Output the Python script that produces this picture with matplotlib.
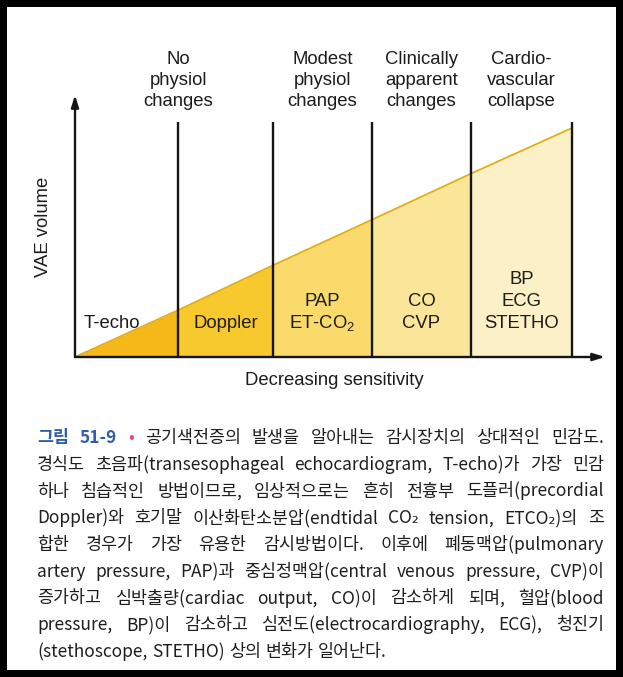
import matplotlib
matplotlib.use('Agg')
import matplotlib.pyplot as plt
from matplotlib.patches import Rectangle
from matplotlib import transforms

plt.rcParams['font.family'] = ['Liberation Sans', 'DejaVu Sans']

# data
stage_bounds = [0, 1.04, 1.99, 2.99, 3.98, 5.0]          # section edges (sensitivity steps)
vae_at_bounds = [0, 0.205, 0.40, 0.60, 0.80, 1.0]         # VAE volume at each edge
section_colors = ['#F4B819', '#F7C92C', '#F9DA6B', '#FBE598', '#FCF0C6']
monitor_labels = ['T-echo', 'Doppler', 'PAP\nET-CO$_\\mathregular{2}$', 'CO\nCVP', 'BP\nECG\nSTETHO']
stage_labels = ['No\nphysiol\nchanges', 'Modest\nphysiol\nchanges',
                'Clinically\napparent\nchanges', 'Cardio-\nvascular\ncollapse']
caption_lines = [
    '그림 51-9 • 공기색전증의 발생을 알아내는 감시장치의 상대적인 민감도.',
    '경식도 초음파(transesophageal echocardiogram, T-echo)가 가장 민감',
    '하나 침습적인 방법이므로, 임상적으로는 흔히 전흉부 도플러(precordial',
    'Doppler)와 호기말 이산화탄소분압(endtidal CO₂ tension, ETCO₂)의 조',
    '합한 경우가 가장 유용한 감시방법이다. 이후에 폐동맥압(pulmonary',
    'artery pressure, PAP)과 중심정맥압(central venous pressure, CVP)이',
    '증가하고 심박출량(cardiac output, CO)이 감소하게 되며, 혈압(blood',
    'pressure, BP)이 감소하고 심전도(electrocardiography, ECG), 청진기',
    '(stethoscope, STETHO) 상의 변화가 일어난다.',
]

W, H = 623, 677
def fx(px):
    return px / W
def fy(py):
    return 1 - py / H

fig = plt.figure(figsize=(W / 100, H / 100), dpi=100, facecolor='black')
fig.patches.append(Rectangle((fx(7), fy(670)), fx(616) - fx(7), fy(7) - fy(670),
                             transform=fig.transFigure, facecolor='white', edgecolor='none', zorder=-10))

# chart area (origin at px 75,357; arrows end at x=605, y=95)
unit_x = (572 - 75) / 5.0
unit_y = 229.0
ax = fig.add_axes([fx(75), fy(357), fx(605) - fx(75), fy(95) - fy(357)])
ax.set_xlim(0, (605 - 75) / unit_x)
ax.set_ylim(0, (357 - 95) / unit_y)
ax.axis('off')

for i in range(5):
    ax.fill_between(stage_bounds[i:i + 2], 0, vae_at_bounds[i:i + 2],
                    color=section_colors[i], lw=0, zorder=1)
ax.plot(stage_bounds, vae_at_bounds, color='#E2AE14', lw=1.3, zorder=2, solid_capstyle='butt')
ax.vlines(stage_bounds[1:], 0, (357 - 122) / unit_y, colors='#151515', lw=1.7, zorder=3)

arrow = dict(arrowstyle='-|>,head_length=0.7,head_width=0.22', color='#151515', lw=1.7,
             shrinkA=0, shrinkB=0)
ax.annotate('', xy=(1, 0), xytext=(0, 0), xycoords='axes fraction', arrowprops=arrow,
            annotation_clip=False, zorder=4)
ax.annotate('', xy=(0, 1), xytext=(0, 0), xycoords='axes fraction', arrowprops=arrow,
            annotation_clip=False, zorder=4)

fs = 13.3
tcol = '#1c1c1c'
blend = transforms.blended_transform_factory(ax.transData, fig.transFigure)

# labels inside sections
for i, lab in enumerate(monitor_labels):
    cx = (stage_bounds[i] + stage_bounds[i + 1]) / 2
    if i == 0:
        cx -= 0.15
    parts = lab.split('\n')
    n = len(parts)
    for j, p in enumerate(parts):
        ax.text(cx, fy(328 - 22 * (n - 1 - j)), p, transform=blend, ha='center',
                va='baseline', fontsize=fs, color=tcol, zorder=5)

# stage labels above
stage_x = [stage_bounds[1]] + [(stage_bounds[i] + stage_bounds[i + 1]) / 2 for i in (2, 3, 4)]
for cx, lab in zip(stage_x, stage_labels):
    for j, p in enumerate(lab.split('\n')):
        ax.text(cx, fy(64 + 21 * j), p, transform=blend, ha='center', va='baseline',
                fontsize=fs, color=tcol)

fig.text(fx(43), fy(227), 'VAE volume', rotation=90, ha='center', va='center',
         fontsize=fs, color=tcol)
fig.text(fx(334), fy(381), 'Decreasing sensitivity', ha='center', va='center',
         fontsize=fs, color=tcol)

# caption, justified word by word
cjk = ['Noto Sans CJK KR', 'DejaVu Sans']
renderer = fig.canvas.get_renderer()
x0, x1 = 37, 604

def word_style(li, wi):
    if li == 0 and wi < 2:
        return dict(color='#2F5DA8', fontweight='bold')
    if li == 0 and wi == 2:
        return dict(color='#E0507E')
    return dict(color='#1e1e1e', fontweight='medium')

def measure(words, li, size):
    ws = []
    for wi, w in enumerate(words):
        t = fig.text(0, 0, w, fontsize=size, family=cjk, **word_style(li, wi))
        ws.append(t.get_window_extent(renderer).width)
        t.remove()
    return ws

cap_fs = 12.5
while cap_fs > 8:
    ok = True
    for li, line in enumerate(caption_lines[:-1]):
        words = line.split(' ')
        ws = measure(words, li, cap_fs)
        if sum(ws) + 0.2 * cap_fs * (len(words) - 1) > x1 - x0:
            ok = False
            break
    if ok:
        break
    cap_fs -= 0.25

for li, line in enumerate(caption_lines):
    words = line.split(' ')
    ws = measure(words, li, cap_fs)
    if li < len(caption_lines) - 1:
        gap = (x1 - x0 - sum(ws)) / (len(words) - 1)
    else:
        gap = cap_fs * 0.35
    x = x0
    yb = 443 + 26.75 * li
    for wi, (w, wd) in enumerate(zip(words, ws)):
        fig.text(fx(x), fy(yb), w, fontsize=cap_fs, family=cjk, ha='left', va='baseline',
                 **word_style(li, wi))
        x += wd + gap

fig.savefig('out.png', dpi=100, facecolor='black')
